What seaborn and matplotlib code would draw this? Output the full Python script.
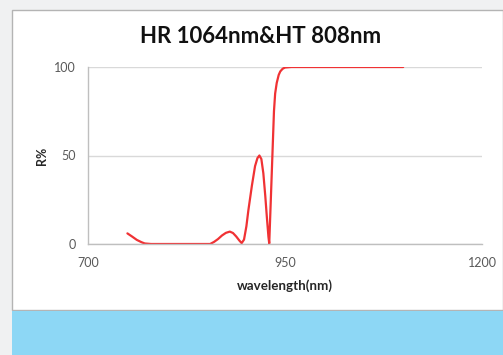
import matplotlib
matplotlib.use("Agg")
import matplotlib.pyplot as plt
import seaborn as sns
import pandas as pd
from matplotlib.patches import Rectangle

# Data
wavelength = [750, 756, 762, 768, 772, 780, 800, 830, 855, 860, 865, 870, 875, 880,
              884, 888, 892, 895, 898, 901, 903.5, 908, 912, 915, 917.5, 920, 922.5,
              925, 927, 929, 930, 932, 934, 936, 937.5, 939.5, 942, 944, 947, 950,
              958, 1000, 1050, 1100]
reflectance = [6, 4.2, 2.3, 1, 0.3, 0, 0, 0, 0, 1.2, 2.8, 4.8, 6.3, 7,
               6.2, 4.3, 2, 0.5, 2.5, 10, 19, 33, 44, 48.5, 50, 48, 40,
               27, 15, 4, 0.3, 25, 50, 75, 85, 91, 95.5, 97.5, 99, 99.7,
               100, 100, 100, 100]
x_ticks = [700, 950, 1200]
y_ticks = [0, 50, 100]
title = "HR 1064nm&HT 808nm"
x_label = "wavelength(nm)"
y_label = "R%"

df = pd.DataFrame({"wavelength": wavelength, "R": reflectance})

sns.set_theme(style="white")
plt.rcParams["font.family"] = ["Lato", "DejaVu Sans"]

W, H = 503, 355
fig = plt.figure(figsize=(W / 100, H / 100), dpi=100)
fig.patch.set_facecolor("#f0f1f2")

# white panel and blue band
fig.patches.append(Rectangle((11.5 / W, (H - 309.5) / H), (W - 11.5) / W, 300 / H,
                             transform=fig.transFigure, facecolor="white",
                             edgecolor="#b4b4b4", linewidth=1.0, zorder=-2))
fig.patches.append(Rectangle((11.5 / W, 0), (W - 11.5) / W, (H - 310.5) / H,
                             transform=fig.transFigure, facecolor="#8dd7f5",
                             edgecolor="none", zorder=-2))

ax = fig.add_axes([88 / W, (H - 244) / H, (482 - 88) / W, (244 - 67) / H])
ax.set_zorder(2)
ax.set_facecolor("none")

sns.lineplot(data=df, x="wavelength", y="R", ax=ax, color="#f03234",
             linewidth=1.6, sort=False)

ax.set_xlim(700, 1200)
ax.set_ylim(0, 100)
ax.set_xticks(x_ticks)
ax.set_yticks(y_ticks)
ax.grid(axis="y", color="#d9d9d9", linewidth=1.0)
ax.set_axisbelow(True)
for s in ["top", "right"]:
    ax.spines[s].set_visible(False)
for s in ["left", "bottom"]:
    ax.spines[s].set_color("#bfbfbf")
    ax.spines[s].set_linewidth(1.0)
ax.tick_params(axis="both", which="major", length=3.5, width=1.0, color="#bfbfbf",
               labelsize=9, labelcolor="#595959", direction="out")
ax.tick_params(axis="x", pad=6)
ax.tick_params(axis="y", pad=5.5)
ax.set_xlabel(x_label, fontsize=9.6, fontweight="bold", color="#262626", labelpad=7.5)
ax.set_ylabel(y_label, fontsize=9, fontweight="bold", color="#262626", labelpad=4)

fig.text(261 / W, (H - 43) / H, title, ha="center", va="baseline",
         fontsize=16, fontweight="bold", color="#111111")

fig.savefig("out.png", dpi=100, facecolor=fig.get_facecolor())
